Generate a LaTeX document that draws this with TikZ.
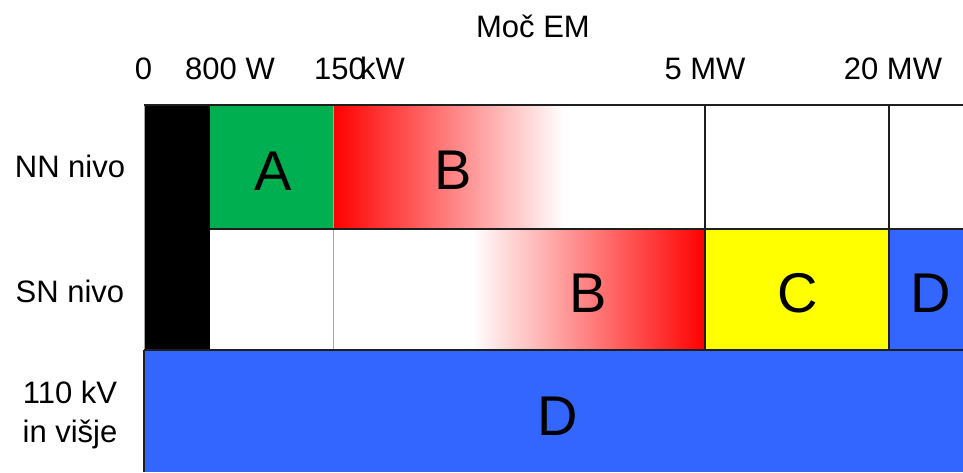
\documentclass[tikz,border=0pt]{standalone}
\usepackage{fontspec}
\setmainfont{Liberation Sans}
\definecolor{zoneA}{HTML}{00B050}
\definecolor{zoneC}{HTML}{FFFF00}
\definecolor{zoneD}{HTML}{3366FF}
\definecolor{gridline}{HTML}{1E1E1E}
\begin{document}
\begin{tikzpicture}[x=1pt,y=-1pt,
  lbl/.style={inner sep=0pt,anchor=base,font=\fontsize{31}{37}\selectfont},
  zone/.style={inner sep=0pt,anchor=base,font=\fontsize{56}{64}\selectfont},
  rule/.style={draw=gridline,line width=1.4pt},
  thin/.style={draw=gray!70,line width=0.8pt}]
\useasboundingbox[fill=white] (0,0) rectangle (963,472);

% column and row boundaries
\coordinate (x0) at (144,0);
\coordinate (y0) at (0,105);

% coloured zones
\fill[black] (144,105) rectangle (210,350);
\fill[zoneA] (210,105) rectangle (333,229);
\shade[left color=red,right color=white] (333,104) rectangle (565,229);
\shade[left color=white,right color=red] (472,229) rectangle (705,350);
\fill[zoneC] (705,229) rectangle (889,350);
\fill[zoneD] (889,229) rectangle (963,350);
\fill[zoneD] (144,350) rectangle (963,472);

% grid lines
\draw[thin] (333,105) -- (333,350);
\draw[thin] (144,105) -- (144,350);
\draw[rule] (144,350) -- (144,472);
\draw[rule] (144,105) -- (963,105);
\draw[rule] (210,229) -- (963,229);
\draw[rule] (144,350) -- (963,350);
\draw[rule] (705,105) -- (705,350);
\draw[rule] (889,105) -- (889,350);

% axis title and power marks
\node[lbl] (title) at (533,37) {Moč EM};
\node[lbl] (p0) at (143.5,79) {0};
\node[lbl] (p800) at (230,79) {800 W};
\node[lbl,anchor=base west] (p150) at (314,79) {150};
\node[lbl,anchor=base west] (pkw) at (360,79) {kW};
\node[lbl] (p5) at (705,79) {5 MW};
\node[lbl] (p20) at (893,79) {20 MW};

% voltage levels
\node[lbl] (nn) at (70,177) {NN nivo};
\node[lbl] (sn) at (70,302) {SN nivo};
\node[lbl] (vn1) at (70,403) {110 kV};
\node[lbl] (vn2) at (70,442) {in višje};

% zone letters
\node[zone] (a) at (273,190) {A};
\node[zone] (b1) at (453,189) {B};
\node[zone] (b2) at (588,312) {B};
\node[zone] (c) at (798,312) {C};
\node[zone] (d1) at (931,312) {D};
\node[zone] (d2) at (558,435) {D};
\end{tikzpicture}
\end{document}
